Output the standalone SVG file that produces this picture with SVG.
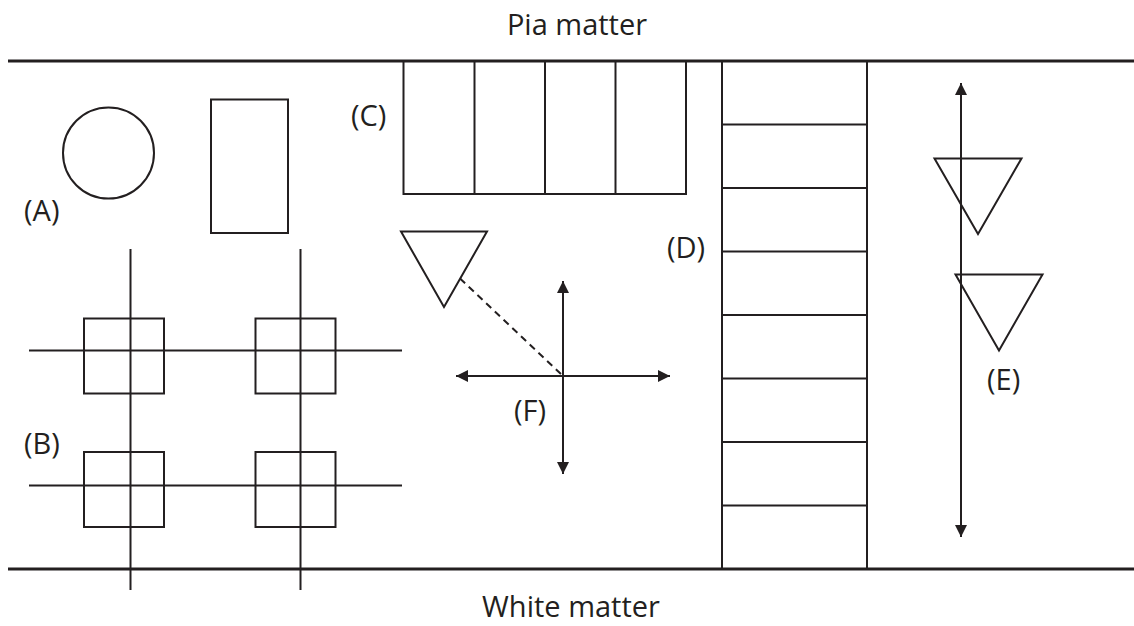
<svg xmlns="http://www.w3.org/2000/svg" width="1134" height="626" viewBox="0 0 1134 626">
  <style>
    .ln { stroke: #231f20; stroke-width: 2; fill: none; }
    .bd { stroke: #231f20; stroke-width: 3; fill: none; }
    .dash { stroke: #231f20; stroke-width: 2; fill: none; stroke-dasharray: 7 5; }
    .lbl { font-family: "Open Sans", "Noto Sans", sans-serif; font-size: 29px; fill: #231f20; }
  </style>
  <defs>
    <marker id="head" viewBox="0 0 12 12" refX="12" refY="6" markerWidth="12" markerHeight="12" markerUnits="userSpaceOnUse" orient="auto-start-reverse">
      <path d="M0,0 L12,6 L0,12 Z" fill="#231f20"/>
    </marker>
  </defs>
  <rect width="1134" height="626" fill="#ffffff"/>

  <!-- layer boundaries -->
  <g id="boundaries">
    <line class="bd" x1="8" y1="61" x2="1134" y2="61"/>
    <line class="bd" x1="8" y1="569" x2="1134" y2="569"/>
    <text class="lbl" x="577" y="35" text-anchor="middle">Pia matter</text>
    <text class="lbl" x="571" y="617" text-anchor="middle">White matter</text>
  </g>

  <!-- (A) round and rectangular profiles -->
  <g id="nodeA">
    <circle class="ln" cx="108.5" cy="153" r="45.5"/>
    <rect class="ln" x="211" y="99.5" width="77" height="133.5"/>
    <text class="lbl" x="24" y="221">(A)</text>
  </g>

  <!-- (B) grid of squares on crossing lines -->
  <g id="nodeB">
    <rect class="ln" x="84" y="318.5" width="80" height="75"/>
    <rect class="ln" x="255.5" y="318.5" width="80" height="75"/>
    <rect class="ln" x="84" y="452" width="80" height="75"/>
    <rect class="ln" x="255.5" y="452" width="80" height="75"/>
    <text class="lbl" x="24" y="454">(B)</text>
  </g>

  <!-- (C) row of columns under the pia -->
  <g id="nodeC">
    <rect class="ln" x="403.5" y="61" width="282.5" height="133"/>
    <line class="ln" x1="474.5" y1="61" x2="474.5" y2="194"/>
    <line class="ln" x1="545" y1="61" x2="545" y2="194"/>
    <line class="ln" x1="615.5" y1="61" x2="615.5" y2="194"/>
    <text class="lbl" x="351" y="126">(C)</text>
  </g>

  <!-- (D) ladder spanning the full depth -->
  <g id="nodeD">
    <line class="ln" x1="722" y1="61" x2="722" y2="569"/>
    <line class="ln" x1="867" y1="61" x2="867" y2="569"/>
    <line class="ln" x1="722" y1="124.5" x2="867" y2="124.5"/>
    <line class="ln" x1="722" y1="188" x2="867" y2="188"/>
    <line class="ln" x1="722" y1="251.5" x2="867" y2="251.5"/>
    <line class="ln" x1="722" y1="315" x2="867" y2="315"/>
    <line class="ln" x1="722" y1="378.5" x2="867" y2="378.5"/>
    <line class="ln" x1="722" y1="442" x2="867" y2="442"/>
    <line class="ln" x1="722" y1="505.5" x2="867" y2="505.5"/>
    <text class="lbl" x="667" y="258">(D)</text>
  </g>

  <!-- (E) two triangles on a vertical axis -->
  <g id="nodeE">
    <polygon class="ln" points="934.5,158.5 1021.5,158.5 978,234"/>
    <polygon class="ln" points="955.5,274.5 1042.5,274.5 999,350.5"/>
    <text class="lbl" x="987" y="390">(E)</text>
  </g>

  <!-- (F) triangle and cross -->
  <g id="nodeF">
    <polygon class="ln" points="401,231.5 487,231.5 444,307"/>
    <text class="lbl" x="514" y="421">(F)</text>
  </g>

  <g id="connectors">
    <!-- B grid lines -->
    <line class="ln" x1="130.5" y1="249" x2="130.5" y2="590"/>
    <line class="ln" x1="300.5" y1="249" x2="300.5" y2="590"/>
    <line class="ln" x1="29" y1="350.5" x2="402" y2="350.5"/>
    <line class="ln" x1="29" y1="485.5" x2="402" y2="485.5"/>
    <!-- F cross and dashed link -->
    <line class="ln" x1="563" y1="281" x2="563" y2="474" marker-start="url(#head)" marker-end="url(#head)"/>
    <line class="ln" x1="456" y1="376" x2="670" y2="376" marker-start="url(#head)" marker-end="url(#head)"/>
    <line class="dash" x1="460" y1="278.5" x2="563" y2="376"/>
    <!-- E vertical axis -->
    <line class="ln" x1="961" y1="83" x2="961" y2="537" marker-start="url(#head)" marker-end="url(#head)"/>
  </g>
</svg>
